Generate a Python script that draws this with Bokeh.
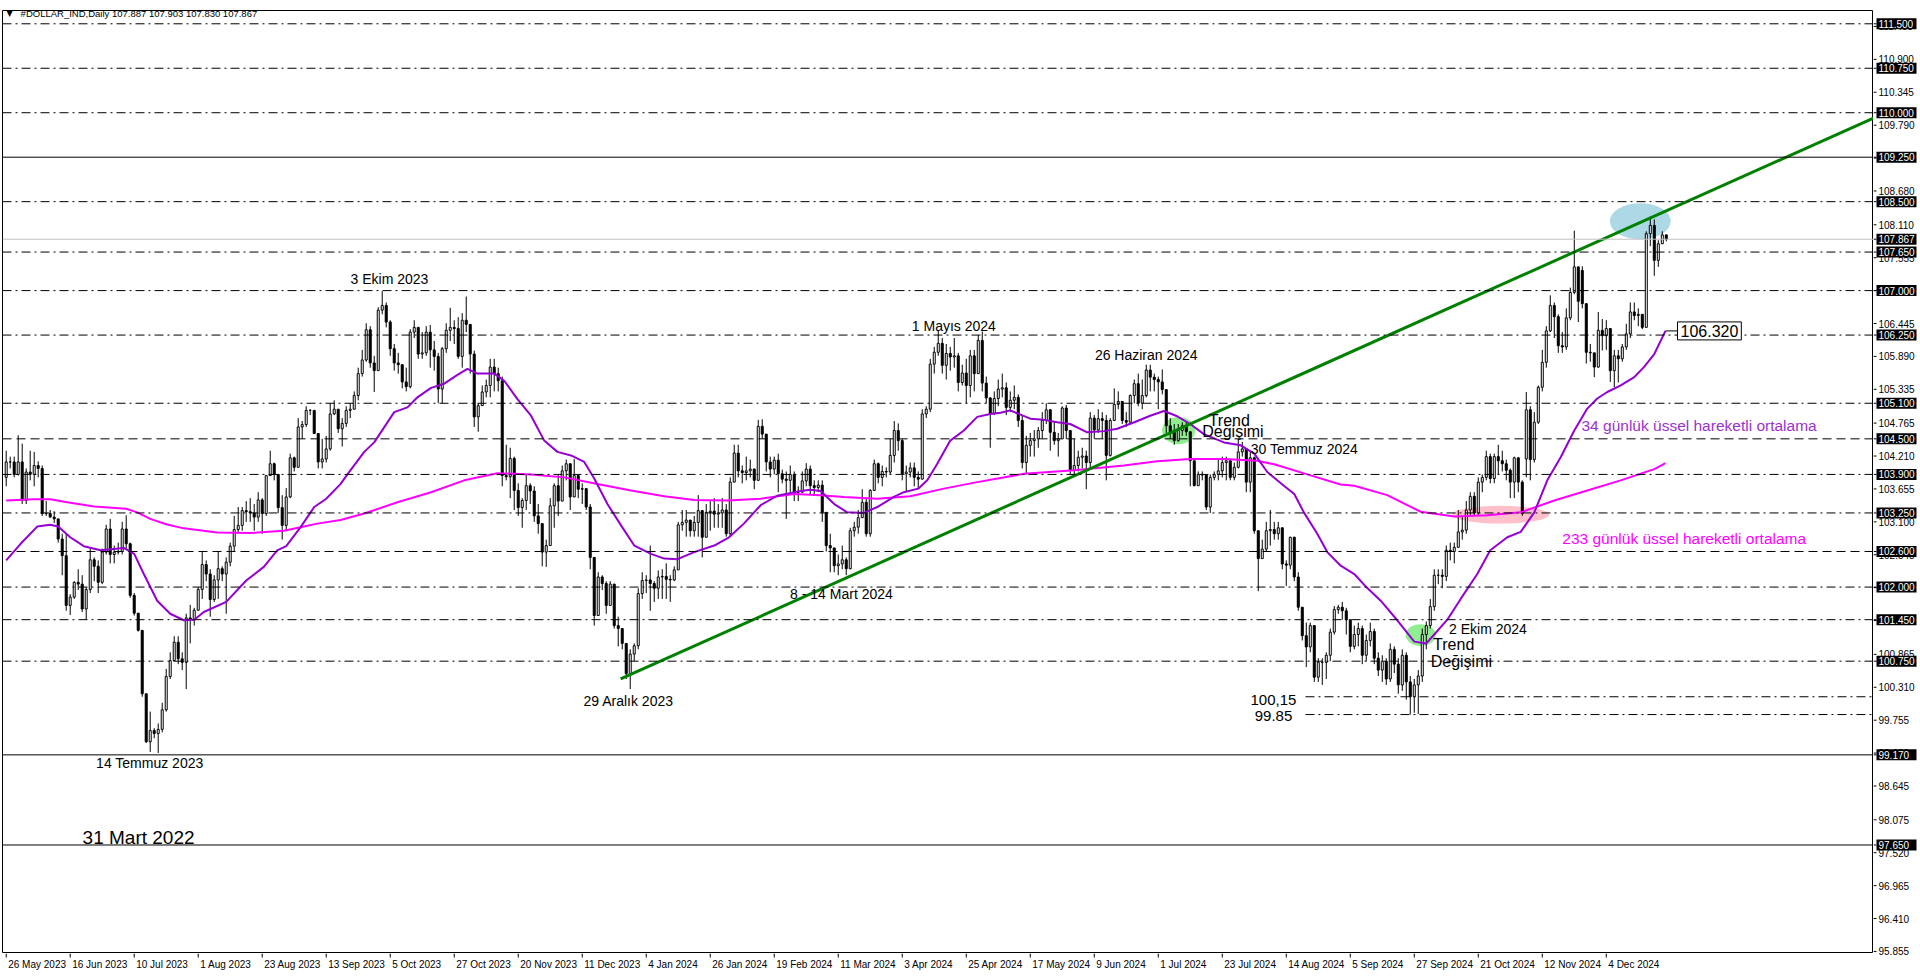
from bokeh.plotting import figure
from bokeh.models import Range1d, Label, Span, ColumnDataSource
from bokeh.layouts import column, row
from bokeh.core.properties import value
from bokeh.embed import file_html
from bokeh.resources import INLINE

# ---------------- data (daily bars, index 1..416) ----------------
closes = [
    104.11,104.11,103.90,104.11,103.46,103.94,103.90,104.05,104.00,103.24,
    103.24,103.18,103.15,102.81,102.53,101.69,101.83,102.08,102.05,101.63,
    101.96,102.46,102.35,102.08,102.59,102.98,102.55,102.59,102.60,102.98,
    102.73,101.86,101.56,101.27,100.20,99.39,99.58,99.53,99.60,99.93,
    100.49,100.76,101.07,100.79,100.73,101.48,101.45,101.61,101.96,102.38,
    102.22,101.79,102.12,102.31,102.22,102.42,102.69,102.97,103.04,103.29,
    103.27,103.25,103.18,103.47,103.24,103.88,104.08,103.90,103.34,103.04,
    103.52,104.18,104.02,104.70,104.74,104.98,104.98,104.59,104.11,104.16,
    104.33,104.92,105.00,104.67,
    104.76,104.98,105.00,105.23,105.60,105.83,106.34,105.78,105.65,106.67,
    106.75,106.47,106.02,105.78,105.75,105.46,105.38,106.30,106.38,105.93,
    105.95,106.30,106.00,105.89,105.34,106.02,106.33,106.38,106.36,105.89,
    106.50,106.43,105.93,104.87,105.06,105.29,105.40,105.71,105.60,105.48,
    103.88,103.86,104.17,103.63,103.34,103.46,103.71,103.62,103.20,103.07,
    102.59,102.70,103.37,103.71,103.45,103.96,104.08,103.52,103.88,103.65,
    103.66,103.35,102.50,101.52,102.17,102.06,101.69,102.05,101.35,101.30,
    101.05,100.54,100.87,101.01,101.89,102.11,102.12,102.06,101.98,102.17,
    102.18,102.13,102.12,102.29,103.05,
    103.09,103.13,102.95,103.09,103.29,102.84,103.26,103.28,103.23,103.25,
    103.30,102.90,103.77,104.26,103.96,103.93,103.96,103.99,103.80,104.71,
    104.58,104.11,103.99,104.14,103.91,103.82,103.80,103.90,103.60,103.60,
    103.79,103.99,103.71,103.68,103.72,103.26,102.70,102.66,102.36,102.39,
    102.46,102.31,102.95,103.01,103.17,103.43,102.90,103.63,104.08,103.85,
    103.95,103.94,104.22,104.64,104.47,103.91,103.94,104.01,103.85,103.82,
    104.92,105.00,105.76,105.96,106.11,105.74,105.94,105.88,105.90,105.45,
    105.61,105.40,105.90,105.60,106.16,105.44,105.19,104.93,
    105.18,105.34,105.36,105.03,105.15,105.20,104.81,104.10,104.39,104.47,
    104.50,104.64,104.81,104.99,104.61,104.47,104.50,105.02,104.64,103.97,
    104.05,104.19,104.21,104.10,104.85,104.65,104.84,104.81,104.22,104.81,
    105.08,105.13,104.81,104.78,105.23,105.43,105.10,105.23,105.66,105.54,
    105.50,105.46,105.33,104.72,104.61,104.47,104.64,104.72,104.62,104.13,
    103.71,103.90,103.89,103.35,103.85,103.90,103.96,104.10,104.13,103.85,
    104.02,104.28,104.33,103.77,104.18,102.95,102.48,102.64,102.95,102.97,
    102.90,103.00,102.39,102.37,102.84,102.17,101.66,101.18,100.99,101.35,
    100.48,100.73,100.73,100.85,101.24,101.62,101.66,
    101.60,101.45,101.00,101.20,101.30,100.85,101.10,101.25,100.80,100.60,
    100.75,100.45,100.95,100.70,100.35,100.85,100.40,100.15,100.35,100.50,
    101.20,101.35,
    101.67,102.20,102.20,102.18,102.62,102.60,102.67,102.93,102.96,103.30,
    103.53,103.25,103.77,103.85,104.20,103.83,104.20,104.13,104.08,103.97,
    103.77,104.18,103.77,103.24,104.99,104.15,104.78,105.37,105.79,106.32,
    106.75,106.56,106.07,106.05,106.54,106.97,107.40,106.82,106.78,105.96,
    105.95,105.71,106.33,106.24,106.36,105.65,105.90,105.85,106.05,106.27,
    106.64,106.58,106.60,106.38,107.96,108.10,107.51,107.79,107.94,107.867,
]
highs = [
    104.30,104.20,104.20,104.56,104.42,104.00,104.30,104.28,104.12,104.05,
    103.45,103.30,103.28,103.10,102.90,102.91,101.88,102.10,102.30,102.20,
    102.00,102.65,102.50,102.45,102.65,103.05,103.15,102.70,102.75,103.10,
    103.21,102.75,101.90,101.50,101.25,100.20,99.90,99.62,99.70,100.05,
    100.62,100.90,101.17,101.17,100.90,101.55,101.70,101.65,102.00,102.60,
    102.45,102.30,102.20,102.60,102.35,102.50,102.75,103.20,103.35,103.35,
    103.45,103.50,103.40,103.60,103.50,103.88,104.30,104.10,103.85,103.55,
    103.67,104.25,104.20,104.85,104.80,105.05,105.00,104.85,104.55,104.50,
    104.55,105.10,105.15,104.90,
    104.85,105.05,105.10,105.30,105.70,106.00,106.45,106.40,105.90,106.72,
    106.99,106.80,106.50,106.10,105.95,105.70,105.70,106.35,106.50,106.33,
    106.30,106.40,106.42,106.15,105.95,106.05,106.45,106.71,106.50,106.55,
    106.62,106.90,106.32,105.99,105.10,105.40,105.50,105.85,105.85,105.70,
    105.55,104.40,104.35,104.20,103.75,103.50,103.90,103.75,103.70,103.40,
    103.05,102.80,103.50,103.75,103.90,104.05,104.15,104.00,104.16,103.75,
    103.75,103.62,103.40,102.30,102.25,102.20,102.10,102.10,102.00,101.50,
    101.25,101.05,100.95,101.05,101.98,102.25,102.20,102.70,102.10,102.28,
    102.30,102.40,102.20,102.35,103.10,
    103.30,103.30,103.10,103.20,103.55,103.30,103.40,103.45,103.50,103.40,
    103.50,103.40,103.85,104.40,104.40,104.05,104.20,104.15,104.00,104.82,
    104.83,104.50,104.20,104.20,104.25,103.98,103.95,104.05,103.95,103.70,
    103.95,104.09,104.05,103.80,103.80,103.80,103.20,102.90,102.50,102.55,
    102.70,102.50,103.00,103.10,103.30,103.65,103.50,103.65,104.15,104.10,
    104.05,104.02,104.50,104.80,104.76,104.50,104.05,104.10,104.10,103.95,
    105.00,105.05,105.85,106.05,106.33,106.20,106.10,106.05,106.20,105.95,
    105.75,105.85,106.00,106.00,106.25,106.31,105.55,105.20,
    105.30,105.50,105.60,105.45,105.30,105.40,105.25,104.90,104.55,104.60,
    104.65,104.70,104.95,105.10,105.00,104.80,104.60,105.05,105.07,104.65,
    104.50,104.30,104.35,104.30,104.95,104.90,105.00,104.95,104.90,104.85,
    105.35,105.30,105.10,104.95,105.25,105.50,105.60,105.50,105.75,105.75,
    105.60,105.55,105.67,105.33,104.85,104.75,104.75,104.78,104.80,104.62,
    104.10,103.95,103.95,103.85,103.90,103.95,104.15,104.20,104.20,104.10,
    104.10,104.50,104.45,104.20,104.30,104.20,102.95,102.80,103.10,103.30,
    103.10,103.10,102.85,102.45,102.85,102.85,102.25,101.66,101.40,101.40,
    101.35,100.80,100.80,100.90,101.30,101.68,101.70,
    101.75,101.65,101.45,101.35,101.40,101.35,101.20,101.40,101.30,100.90,
    100.85,100.80,101.05,101.00,100.80,100.95,100.90,100.50,100.45,100.60,
    101.30,101.42,
    101.80,102.30,102.30,102.30,102.70,102.75,102.75,103.30,103.20,103.45,
    103.60,103.60,103.85,103.90,104.30,104.25,104.25,104.40,104.30,104.15,
    104.00,104.20,103.95,103.80,105.29,105.05,104.95,105.40,106.00,106.40,
    106.92,106.80,106.60,106.30,106.70,107.05,108.01,107.00,107.41,106.75,
    106.10,105.90,106.64,106.52,106.50,106.30,106.00,106.00,106.10,106.44,
    106.80,106.80,106.70,106.60,108.00,108.25,108.20,107.85,108.00,107.903,
]
lows = [
    103.70,104.00,103.85,103.88,103.40,103.40,103.80,103.70,103.85,103.20,
    103.20,103.17,103.08,102.75,102.20,101.60,101.53,101.80,101.95,101.58,
    101.45,101.90,102.10,101.90,102.05,102.55,102.40,102.40,102.55,102.55,
    102.65,101.82,101.52,101.25,100.15,99.37,99.22,99.45,99.20,99.55,
    99.90,100.45,100.75,100.70,100.60,100.28,101.05,101.35,101.60,101.80,
    102.10,101.50,101.75,101.80,102.10,101.55,102.35,102.60,102.90,102.95,
    103.10,103.10,102.95,103.10,102.90,103.20,103.90,103.80,103.25,102.80,
    102.95,103.50,103.95,104.05,104.50,104.70,104.90,104.58,104.00,104.00,
    104.10,104.30,104.90,104.60,
    104.37,104.70,104.85,105.00,105.15,105.55,105.80,105.70,105.29,105.68,
    106.60,106.38,105.90,105.65,105.60,105.35,105.30,105.35,106.20,105.85,
    105.85,105.90,105.70,105.65,105.10,105.10,105.95,106.15,106.10,105.85,
    105.70,106.30,105.60,104.70,104.62,105.10,105.20,105.20,105.30,105.30,
    103.70,103.80,103.50,103.30,103.20,103.00,103.30,103.40,103.10,102.90,
    102.35,102.34,102.70,103.00,103.20,103.50,103.80,103.30,103.70,103.50,
    103.40,103.30,102.30,101.35,101.70,101.95,101.55,101.80,101.30,101.00,
    100.95,100.45,100.28,100.75,100.95,101.80,101.90,101.60,101.75,101.80,
    101.80,101.80,101.75,102.10,102.40,
    102.95,102.85,102.85,102.85,102.85,102.50,102.90,102.95,103.00,103.00,
    103.00,102.85,102.85,103.90,103.85,103.75,103.80,103.85,103.65,103.90,
    104.50,103.95,103.85,103.90,103.60,103.75,103.15,103.60,103.45,103.45,
    103.60,103.70,103.55,103.55,103.60,103.10,102.60,102.25,102.25,102.20,
    102.30,102.20,102.30,102.85,102.90,103.20,102.85,102.85,103.65,103.75,
    103.70,103.85,103.90,104.10,104.30,103.80,103.60,103.85,103.70,103.65,
    103.82,104.85,104.95,105.60,105.90,105.60,105.50,105.65,105.70,105.30,
    105.40,105.10,105.20,105.30,105.75,105.30,105.10,104.35,
    104.90,105.05,105.20,104.90,104.95,105.00,104.70,104.00,103.90,104.20,
    104.20,104.35,104.50,104.75,104.30,104.40,104.20,104.50,104.50,103.90,
    103.90,103.95,104.00,103.65,103.98,104.50,104.60,104.50,103.80,104.20,
    104.80,105.00,104.75,104.70,104.80,105.10,105.05,105.00,105.20,105.30,
    105.30,105.00,105.25,104.60,104.50,104.40,104.45,104.55,104.55,103.70,
    103.70,103.75,103.80,103.30,103.25,103.80,103.80,103.85,103.80,103.80,
    103.80,104.00,104.20,103.60,103.60,102.90,101.93,102.50,102.60,102.70,
    102.80,102.80,102.30,102.02,102.30,102.10,101.60,101.10,100.65,100.90,
    100.40,100.40,100.35,100.45,100.75,101.20,101.55,
    101.45,101.20,100.90,100.95,101.00,100.70,100.75,101.00,100.70,100.50,
    100.40,100.35,100.40,100.55,100.20,100.25,100.10,99.85,99.88,99.86,
    100.40,100.95,
    101.30,101.60,102.05,101.98,102.10,102.45,102.40,102.75,102.80,102.90,
    103.20,103.20,103.20,103.60,103.80,103.75,103.75,103.90,103.95,103.80,
    103.50,103.50,103.60,103.20,103.85,103.80,104.10,104.75,105.30,105.70,
    106.30,106.20,105.95,105.95,106.00,106.50,106.94,106.47,106.70,105.77,
    105.80,105.54,105.70,105.99,106.00,105.46,105.37,105.45,105.80,106.00,
    106.20,106.50,106.40,106.35,106.40,107.75,107.25,107.40,107.80,107.830,
]
# opens that differ from the previous close (gaps)
open_overrides = {1: 103.85, 381: 104.16, 395: 107.34}

# 34-day EMA (purple): bar index / value
ema34_x = [1, 4.6, 8.75, 12, 14, 17, 20.4, 24.6, 30.4, 33, 35.4, 38.75, 42, 45.4, 48, 50.4, 56, 61,
           65.4, 68.75, 71, 74.6, 78, 81, 84.6, 86.3, 90.5, 93, 98, 101.3, 103.8, 107.2, 110.5,
           113.8, 116.3, 118.8, 123, 125.5, 128.8, 132.2, 135.5, 138.8, 142.2, 145.5, 148, 151.3,
           154.7, 158, 162.2, 165.5, 168.8, 173, 178, 181.7, 185.4, 189.6, 193.75, 198.75, 202,
           204.6, 208, 211.25, 215.4, 218.75, 222.9, 225.4, 229, 231.25, 233.75, 237, 240.4,
           243.75, 247, 249.6, 252, 257, 260.4, 263.75, 267, 271.25, 275.4, 278.75, 283, 287,
           290.4, 293.75, 297, 300.4, 305.4, 309.6, 313, 316.25, 320.4, 323, 325.4, 328.75,
           331.25, 334.6, 338, 341, 344.6, 348.75, 351, 353, 356, 358, 361.25, 364.6, 368.75,
           372, 376.25, 379.6, 383, 386.25, 389.6, 393, 396.25, 398.75, 401.25, 404.6, 408,
           410.4, 413, 415.8]
ema34_y = [102.45, 102.73, 103.02, 103.05, 103.02, 102.84, 102.69, 102.62, 102.66, 102.56, 102.22,
           101.77, 101.55, 101.44, 101.45, 101.58, 101.75, 102.11, 102.34, 102.62, 102.69, 103.01,
           103.35, 103.49, 103.74, 103.9, 104.28, 104.44, 104.95, 105.03, 105.2, 105.36, 105.43,
           105.58, 105.68, 105.6, 105.6, 105.48, 105.17, 104.89, 104.47, 104.28, 104.22, 104.11,
           103.83, 103.4, 103.04, 102.7, 102.56, 102.48, 102.47, 102.59, 102.7, 102.84, 103.07,
           103.38, 103.54, 103.61, 103.64, 103.62, 103.4, 103.26, 103.25, 103.35, 103.52, 103.6,
           103.66, 103.8, 104.08, 104.47, 104.64, 104.87, 104.92, 104.94, 104.98, 104.84, 104.82,
           104.78, 104.75, 104.61, 104.63, 104.67, 104.78, 104.89, 104.97, 104.88, 104.75, 104.58,
           104.44, 104.39, 104.25, 103.94, 103.71, 103.57, 103.26, 102.9, 102.59, 102.36, 102.22,
           102.0, 101.77, 101.44, 101.25, 101.08, 101.05, 101.2, 101.45, 101.8, 102.22, 102.62,
           102.84, 102.93, 103.26, 103.8, 104.19, 104.64, 105.01, 105.18, 105.29, 105.4, 105.54,
           105.71, 105.93, 106.32]
# 233-day EMA (magenta)
ema233_x = [1, 7.9, 12, 16.25, 23, 31, 33.75, 37, 41, 45.4, 53.75, 62, 70.4, 74.6, 78.75, 84.6,
            90.5, 98.8, 107.2, 115.5, 123.8, 132.2, 140.5, 148.8, 157.2, 165.5, 173, 181.25,
            189.6, 198, 204.6, 210.4, 218.75, 227, 235.4, 243.75, 249.6, 255.4, 268, 280.4,
            288.75, 297, 305.4, 313.75, 318, 326.25, 334.6, 338, 346.25, 354.6, 363, 371.25,
            379.6, 388, 396.25, 404.6, 413, 415.8]
ema233_y = [103.46, 103.48, 103.48, 103.43, 103.36, 103.32, 103.26, 103.15, 103.06, 102.99, 102.92,
            102.91, 102.95, 103.01, 103.07, 103.13, 103.24, 103.43, 103.6, 103.8, 103.92, 103.9,
            103.85, 103.74, 103.63, 103.53, 103.47, 103.46, 103.49, 103.57, 103.55, 103.52, 103.49,
            103.53, 103.66, 103.77, 103.84, 103.91, 103.97, 104.05, 104.12, 104.16, 104.16, 104.13,
            104.07, 103.9, 103.73, 103.71, 103.55, 103.27, 103.19, 103.21, 103.26, 103.46, 103.63,
            103.8, 103.99, 104.09]

# trend line (29 Dec 2023 low extended)
trend_x = [154.6, 467.8]
trend_y = [100.45, 109.91]

# horizontal levels
dashdot_levels = [111.5, 110.75, 110.0, 108.5, 107.65, 107.0, 106.25, 105.1, 103.9, 103.25,
                  102.0, 101.45, 100.75]
dashed_levels = [104.5, 102.6]
solid_levels = [109.25, 99.17, 97.65]
current_price = 107.867
short_levels = [100.15, 99.85]
short_levels_start = 325.8
box_levels = [111.5, 110.75, 110.0, 109.25, 108.5, 107.867, 107.65, 107.0, 106.25, 105.1, 104.5,
              103.9, 103.25, 102.6, 102.0, 101.45, 100.75, 99.17, 97.65]

# axis ticks
ytick_vals = [95.855, 96.41, 96.965, 97.52, 98.075, 98.645, 99.2, 99.755, 100.31, 100.865, 101.435,
              101.99, 102.545, 103.1, 103.655, 104.21, 104.765, 105.335, 105.89, 106.445, 107.0,
              107.555, 108.11, 108.68, 109.235, 109.79, 110.345, 110.9, 111.455]
date_ticks = [1, 17, 33, 49, 65, 81, 97, 113, 129, 145, 161, 177, 193, 209, 225, 241, 257, 273,
              289, 305, 321, 337, 353, 369, 385, 401]
date_labels = ["26 May 2023", "16 Jun 2023", "10 Jul 2023", "1 Aug 2023", "23 Aug 2023",
               "13 Sep 2023", "5 Oct 2023", "27 Oct 2023", "20 Nov 2023", "11 Dec 2023",
               "4 Jan 2024", "26 Jan 2024", "19 Feb 2024", "11 Mar 2024", "3 Apr 2024",
               "25 Apr 2024", "17 May 2024", "9 Jun 2024", "1 Jul 2024", "23 Jul 2024",
               "14 Aug 2024", "5 Sep 2024", "27 Sep 2024", "21 Oct 2024", "12 Nov 2024",
               "4 Dec 2024"]

X0, X1 = 0.075, 467.8
Y0, Y1 = 95.82, 111.724
FONT = "Liberation Sans"
LEFT, TOP = 2, 10
FRAME_W, FRAME_H = 1871, 943
MAIN_W, MAIN_H = LEFT + FRAME_W, TOP + FRAME_H
SCALE_W, DATES_H = 47, 20
TOTAL_H = MAIN_H + DATES_H
PX_PER_UNIT = FRAME_H / (Y1 - Y0)

# ---------------- derived candle tables ----------------
n = len(closes)
bars = list(range(1, n + 1))
opens = []
for i in range(n):
    b = i + 1
    if b in open_overrides:
        opens.append(open_overrides[b])
    else:
        opens.append(closes[i - 1] if i > 0 else closes[0])
hi = [max(h, o, c) for h, o, c in zip(highs, opens, closes)]
lo = [min(l, o, c) for l, o, c in zip(lows, opens, closes)]
up = dict(x=[], top=[], bottom=[])
dn = dict(x=[], top=[], bottom=[])
for b, o, c in zip(bars, opens, closes):
    d = up if c >= o else dn
    d["x"].append(b)
    d["top"].append(max(o, c))
    d["bottom"].append(min(o, c))

def bare(fig):
    fig.grid.visible = False
    fig.axis.visible = False
    return fig

# ---------------- main chart ----------------
p = figure(width=MAIN_W, height=MAIN_H, x_range=Range1d(X0, X1), y_range=Range1d(Y0, Y1),
           x_axis_location=None, y_axis_location=None,
           output_backend="svg", toolbar_location=None,
           min_border_left=LEFT, min_border_right=0, min_border_top=TOP, min_border_bottom=0,
           background_fill_color="white", border_fill_color="white",
           outline_line_color="black", outline_line_width=1)
p.grid.visible = False

# highlight ellipses
p.ellipse(x=[294.1, 354.6, 409.5, 374.6], y=[104.64, 101.19, 108.17, 103.22],
          width=[8.3, 7.5, 15.2, 24.2], height=[0.46, 0.37, 0.61, 0.30],
          fill_color=["#90EE90", "#90EE90", "#ADD8E6", "#FFC0CB"], line_color=None)

# horizontal lines
for v in dashdot_levels:
    p.add_layout(Span(location=v, dimension="width", line_color="black", line_width=1,
                      line_dash="9 4 2 4"))
for v in dashed_levels:
    p.add_layout(Span(location=v, dimension="width", line_color="black", line_width=1,
                      line_dash="9 5"))
for v in solid_levels:
    p.add_layout(Span(location=v, dimension="width", line_color="black", line_width=1))
p.add_layout(Span(location=current_price, dimension="width", line_color="#C0C0C0", line_width=1))
p.segment(x0=[short_levels_start] * len(short_levels), y0=short_levels,
          x1=[X1] * len(short_levels), y1=short_levels,
          line_color="black", line_width=1, line_dash="9 4 2 4")

# candles
p.segment(x0=bars, y0=lo, x1=bars, y1=hi, line_color="black", line_width=1)
p.vbar(source=ColumnDataSource(up), x="x", top="top", bottom="bottom", width=0.5,
       fill_color="white", line_color="black", line_width=1)
p.vbar(source=ColumnDataSource(dn), x="x", top="top", bottom="bottom", width=0.5,
       fill_color="black", line_color="black", line_width=1)

# EMAs
p.line(ema233_x, ema233_y, line_color="#FF00FF", line_width=2)
p.line(ema34_x, ema34_y, line_color="#9400D3", line_width=2)

# trend line
p.line(trend_x, trend_y, line_color="#008000", line_width=3)

# EMA value tag
p.segment(x0=[415.8], y0=[106.32], x1=[418.8], y1=[106.32], line_color="black", line_width=1)
p.add_layout(Label(x=418.8, y=106.32, text="106.320", text_font=FONT, text_font_size="16px",
                   text_color="black", text_baseline="middle", text_align="left",
                   background_fill_color="white", border_line_color="black", padding=3))

# annotations: (text, x, y, align, size, color)
notes = [
    ("3 Ekim 2023", 96.8, 107.19, "center", "14px", "black"),
    ("14 Temmuz 2023", 36.9, 99.03, "center", "14px", "black"),
    ("31 Mart 2022", 20.1, 97.77, "left", "19px", "black"),
    ("29 Aralık 2023", 156.6, 100.08, "center", "14px", "black"),
    ("8 - 14 Mart 2024", 209.8, 101.88, "center", "14px", "black"),
    ("1 Mayıs 2024", 237.9, 106.40, "center", "14px", "black"),
    ("26 Haziran 2024", 286.0, 105.92, "center", "14px", "black"),
    ("Trend", 301.6, 104.81, "left", "16px", "black"),
    ("Değişimi", 300.0, 104.62, "left", "16px", "black"),
    ("30 Temmuz 2024", 312.1, 104.33, "left", "14px", "black"),
    ("100,15", 317.8, 100.10, "center", "15px", "black"),
    ("99.85", 317.8, 99.83, "center", "15px", "black"),
    ("2 Ekim 2024", 361.7, 101.30, "left", "14px", "black"),
    ("Trend", 357.7, 101.03, "left", "16px", "black"),
    ("Değişimi", 357.1, 100.75, "left", "16px", "black"),
    ("34 günlük üssel hareketli ortalama", 394.8, 104.72, "left", "15.5px", "#9932CC"),
    ("233 günlük üssel hareketli ortalama", 390.0, 102.82, "left", "15.5px", "#FF00FF"),
]
for t, x, y, al, sz, col in notes:
    p.add_layout(Label(x=x, y=y, text=t, text_font=FONT, text_font_size=sz, text_color=col,
                       text_align=al, text_baseline="middle"))

# header
p.add_layout(Label(x=1.1, y=111.67, text="▼", text_font="DejaVu Sans", text_font_size="8px",
                   text_color="black", text_baseline="middle", text_align="left"))
p.add_layout(Label(x=4.6, y=111.67, text="#DOLLAR_IND,Daily  107.887 107.903 107.830 107.867",
                   text_font=FONT, text_font_size="9.5px", text_color="black",
                   text_baseline="middle", text_align="left"))

# ---------------- price scale (right) ----------------
scale_bottom = Y1 - (TOTAL_H - TOP) / PX_PER_UNIT
s = bare(figure(width=SCALE_W, height=TOTAL_H, x_range=Range1d(0, SCALE_W),
                y_range=Range1d(scale_bottom, Y1),
                output_backend="svg", toolbar_location=None,
                min_border_left=0, min_border_right=0, min_border_top=TOP, min_border_bottom=0,
                background_fill_color="white", border_fill_color="white",
                outline_line_color=None))
s.segment(x0=[0] * len(ytick_vals), y0=ytick_vals, x1=[3] * len(ytick_vals), y1=ytick_vals,
          line_color="black", line_width=1)
s.text(x=[5] * len(ytick_vals), y=ytick_vals, text=[f"{v:.3f}" for v in ytick_vals],
       text_font=value(FONT), text_font_size=value("10px"), text_color="black",
       text_baseline="middle", text_align="left")
s.segment(x0=[0] * len(box_levels), y0=box_levels, x1=[3] * len(box_levels), y1=box_levels,
          line_color="black", line_width=1)
s.rect(x=[23] * len(box_levels), y=box_levels, width=[40] * len(box_levels),
       height=[11] * len(box_levels), height_units="screen",
       fill_color="black", line_color=None)
s.text(x=[5] * len(box_levels), y=box_levels, text=[f"{v:.3f}" for v in box_levels],
       text_font=value(FONT), text_font_size=value("10px"), text_color="white",
       text_baseline="middle", text_align="left")

# ---------------- date scale (bottom) ----------------
d = bare(figure(width=MAIN_W, height=DATES_H, x_range=p.x_range, y_range=Range1d(0, DATES_H),
                output_backend="svg", toolbar_location=None,
                min_border_left=LEFT, min_border_right=0, min_border_top=0, min_border_bottom=0,
                background_fill_color="white", border_fill_color="white",
                outline_line_color=None))
d.segment(x0=date_ticks, y0=[DATES_H] * len(date_ticks), x1=date_ticks,
          y1=[DATES_H - 4] * len(date_ticks), line_color="black", line_width=1)
d.text(x=date_ticks, y=[DATES_H - 5] * len(date_ticks), text=date_labels, x_offset=2,
       text_font=value(FONT), text_font_size=value("10px"), text_color="black",
       text_baseline="top", text_align="left")

layout = row(column(p, d, spacing=0), s, spacing=0)
open("out.html", "w").write(file_html(layout, INLINE))
